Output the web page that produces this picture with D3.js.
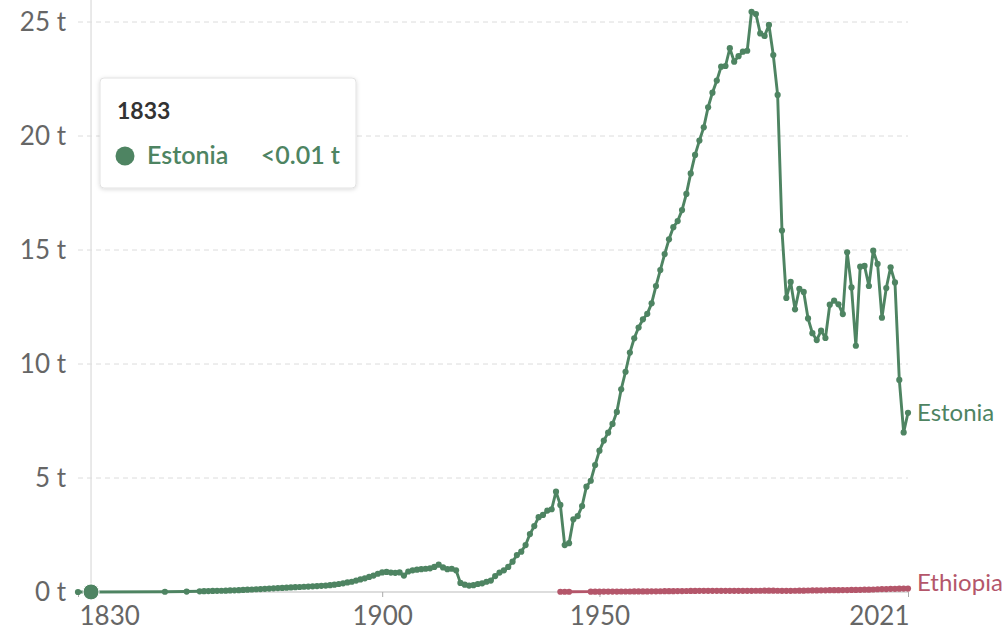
<!DOCTYPE html>
<html>
<head>
<meta charset="utf-8">
<script src="https://cdn.jsdelivr.net/npm/d3@7"></script>
<style>
  html,body{margin:0;padding:0;background:#fff;}
  svg{display:block;font-family:Lato,"Noto Sans",sans-serif;}
</style>
</head>
<body>
<svg id="chart" width="1002" height="634"></svg>
<script>
// ---- Data ----
const estoniaYears = [1830,1833,1850,1855].concat(d3.range(1858,2022));
const estoniaValues = [0.0,0.003,0.01,0.02,
  // 1858-1869
  0.03,0.035,0.04,0.045,0.05,0.055,0.06,0.07,0.075,0.08,0.09,0.1,
  // 1870-1879
  0.11,0.12,0.13,0.14,0.15,0.16,0.17,0.18,0.19,0.2,
  // 1880-1889
  0.21,0.22,0.23,0.24,0.25,0.26,0.27,0.28,0.3,0.32,
  // 1890-1899
  0.35,0.38,0.42,0.45,0.5,0.55,0.6,0.66,0.72,0.8,
  // 1900-1909
  0.86,0.88,0.85,0.84,0.86,0.72,0.9,0.95,0.98,1.0,
  // 1910-1919
  1.02,1.04,1.1,1.2,1.08,1.0,1.02,0.95,0.4,0.32,
  // 1920-1929
  0.28,0.3,0.35,0.38,0.45,0.5,0.7,0.85,0.95,1.1,
  // 1930-1939
  1.33,1.62,1.77,2.06,2.54,2.89,3.28,3.38,3.57,3.63,
  // 1940-1949
  4.4,3.82,2.06,2.14,3.19,3.33,3.77,4.62,4.88,5.57,
  // 1950-1959
  6.2,6.64,6.99,7.37,7.9,8.89,9.66,10.5,11.13,11.6,
  // 1960-1969
  11.96,12.2,12.66,13.42,14.12,14.82,15.47,16.0,16.27,16.75,
  // 1970-1979
  17.46,18.36,19.17,19.8,20.38,21.26,21.9,22.43,23.04,23.07,
  // 1980-1989
  23.85,23.26,23.5,23.7,23.74,25.45,25.35,24.5,24.39,24.87,
  // 1990-1999
  23.55,21.8,15.85,12.9,13.6,12.4,13.3,13.16,12.0,11.35,
  // 2000-2009
  11.05,11.46,11.14,12.6,12.78,12.62,12.19,14.9,13.36,10.8,
  // 2010-2019
  14.27,14.3,13.42,14.97,14.39,12.03,13.33,14.24,13.58,9.3,
  // 2020-2021
  7.0,7.86];

const ethiopiaYears = [1941,1942,1943].concat(d3.range(1948,2022));
const ethiopiaValues = [0.01,0.01,0.01,
  // 1948-1959
  0.015,0.015,0.016,0.017,0.018,0.019,0.02,0.021,0.022,0.023,0.024,0.025,
  // 1960-1969
  0.026,0.027,0.028,0.03,0.032,0.034,0.036,0.038,0.04,0.042,
  // 1970-1979
  0.044,0.046,0.048,0.05,0.05,0.05,0.05,0.05,0.05,0.05,
  // 1980-1989
  0.05,0.05,0.05,0.05,0.05,0.05,0.055,0.055,0.06,0.06,
  // 1990-1999
  0.06,0.055,0.05,0.05,0.05,0.055,0.06,0.06,0.065,0.07,
  // 2000-2009
  0.07,0.075,0.075,0.08,0.08,0.08,0.085,0.085,0.09,0.09,
  // 2010-2019
  0.095,0.1,0.1,0.11,0.12,0.13,0.13,0.14,0.14,0.145,
  // 2020-2021
  0.15,0.15];

const yTicks = [0,5,10,15,20,25];
const xTicks = [1830,1900,1950,2021];
const tooltipYear = 1833;
const tooltipSeries = "Estonia";
const tooltipValue = "<0.01 t";

const series = [
  {name:"Estonia", years:estoniaYears, values:estoniaValues, color:"#4e8462", labelShift:0},
  {name:"Ethiopia", years:ethiopiaYears, values:ethiopiaValues, color:"#b4566a", labelShift:-6}
];

// ---- Layout ----
const svg = d3.select("#chart");
const x = d3.scaleLinear().domain([1830,2021]).range([78,908]);
const y = d3.scaleLinear().domain([0,25]).range([592,22]);

// gridlines
svg.append("g").selectAll("line").data(yTicks.filter(d=>d>0)).join("line")
  .attr("x1",78).attr("x2",908)
  .attr("y1",d=>y(d)).attr("y2",d=>y(d))
  .attr("stroke","#dcdcdc").attr("stroke-width",1).attr("stroke-dasharray","5,4");

// y labels
svg.append("g").selectAll("text").data(yTicks).join("text")
  .attr("x",66).attr("y",d=>y(d)).attr("dy","0.36em")
  .attr("text-anchor","end").attr("fill","#666").attr("font-size",26)
  .text(d=>d+" t");

// hover line
svg.append("line").attr("x1",x(tooltipYear)).attr("x2",x(tooltipYear))
  .attr("y1",0).attr("y2",y(0)).attr("stroke","#ddd").attr("stroke-width",1.3);

// x axis
const xAxis = d3.axisBottom(x).tickValues(xTicks).tickSize(5).tickFormat(d3.format("d"));
const gx = svg.append("g").attr("transform",`translate(0,${y(0)})`).call(xAxis);
gx.select(".domain").attr("stroke","#bbb").attr("d","M78,0H908");
gx.selectAll(".tick line").attr("stroke","#aaa");
gx.selectAll(".tick text").attr("fill","#666").attr("font-size",26)
  .attr("font-family","Lato,sans-serif").attr("dy","0.95em")
  .attr("text-anchor",(d,i)=> i===0 ? "start" : (i===xTicks.length-1 ? "end" : "middle"))
  .attr("dx",(d,i)=> i===0 ? 1 : (i===xTicks.length-1 ? 1 : 0));

// lines
const line = d3.line().x(d=>x(d[0])).y(d=>y(d[1]));
series.slice().reverse().forEach(s=>{
  const pts = s.years.map((yr,i)=>[yr,s.values[i]]);
  const g = svg.append("g");
  g.append("path").datum(pts).attr("d",line).attr("fill","none")
    .attr("stroke",s.color).attr("stroke-width",2.9).attr("stroke-linejoin","round");
  g.selectAll("circle").data(pts).join("circle")
    .attr("cx",d=>x(d[0])).attr("cy",d=>y(d[1])).attr("r",3.1).attr("fill",s.color);
  const last = pts[pts.length-1];
  svg.append("text").attr("x",x(last[0])+9).attr("y",y(last[1])+s.labelShift).attr("dy","0.36em")
    .attr("fill",s.color).attr("font-size",24).text(s.name);
});

// hover dot
const est = series[0];
const hv = est.values[est.years.indexOf(tooltipYear)];
svg.append("circle").attr("cx",x(tooltipYear)).attr("cy",y(hv)).attr("r",8)
  .attr("fill",est.color).attr("stroke","#fff").attr("stroke-width",1);

// tooltip
const defs = svg.append("defs");
const f = defs.append("filter").attr("id","sh").attr("x","-20%").attr("y","-20%").attr("width","140%").attr("height","140%");
f.append("feDropShadow").attr("dx",0).attr("dy",1).attr("stdDeviation",2).attr("flood-color","#000").attr("flood-opacity",0.15);
const tt = svg.append("g").attr("transform","translate(100,78)");
tt.append("rect").attr("width",256).attr("height",110).attr("rx",4)
  .attr("fill","#fff").attr("stroke","#e2e2e2").attr("filter","url(#sh)");
tt.append("text").attr("x",17).attr("y",41).attr("font-size",23).attr("font-weight",700)
  .attr("fill","#333").text(tooltipYear);
tt.append("circle").attr("cx",25).attr("cy",78).attr("r",9.5).attr("fill",est.color);
tt.append("text").attr("x",47).attr("y",86).attr("font-size",25).attr("font-weight",600)
  .attr("fill",est.color).text(tooltipSeries);
tt.append("text").attr("x",240).attr("y",86).attr("text-anchor","end").attr("font-size",25)
  .attr("font-weight",600).attr("fill",est.color).text(tooltipValue);
</script>
</body>
</html>
